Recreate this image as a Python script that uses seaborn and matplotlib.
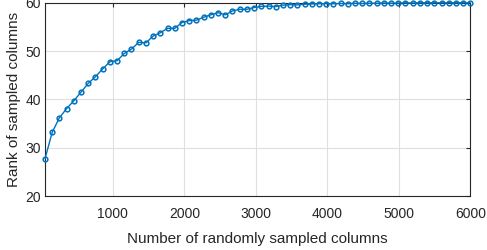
import matplotlib
matplotlib.use("Agg")
import matplotlib.pyplot as plt
import seaborn as sns
import pandas as pd

num_columns = [50, 151, 252, 353, 453, 554, 655, 756, 857, 958,
               1059, 1159, 1260, 1361, 1462, 1563, 1664, 1765, 1865, 1966,
               2067, 2168, 2269, 2370, 2471, 2572, 2672, 2773, 2874, 2975,
               3076, 3177, 3278, 3378, 3479, 3580, 3681, 3782, 3883, 3984,
               4085, 4185, 4286, 4387, 4488, 4589, 4690, 4791, 4892, 4992,
               5093, 5194, 5295, 5396, 5497, 5598, 5698, 5799, 5900, 6000]
rank_vals = [27.7, 33.2, 36.2, 38.1, 39.7, 41.5, 43.3, 44.7, 46.3, 47.8,
             48.0, 49.5, 50.4, 51.8, 51.7, 53.1, 53.8, 54.7, 54.7, 55.9,
             56.3, 56.4, 57.0, 57.5, 57.95, 57.5, 58.3, 58.65, 58.65, 59.0,
             59.25, 59.3, 59.2, 59.5, 59.6, 59.55, 59.7, 59.75, 59.8, 59.8,
             59.8, 59.85, 59.8, 59.9, 59.85, 59.9, 59.9, 59.95, 59.9, 59.95,
             60.0, 59.95, 60.0, 60.0, 60.0, 60.0, 60.0, 60.0, 60.0, 60.0]
x_ticks = [1000, 2000, 3000, 4000, 5000, 6000]
y_ticks = [20, 30, 40, 50, 60]
x_label = "Number of randomly sampled columns"
y_label = "Rank of sampled columns"

sns.set_theme(style="whitegrid")
plt.rcParams['font.family'] = ['Liberation Sans', 'DejaVu Sans']

df = pd.DataFrame({"x": num_columns, "y": rank_vals})

fig = plt.figure(figsize=(4.87, 2.5), dpi=100)
ax = fig.add_axes([0.0924, 0.216, 0.8733, 0.773])

color = "#0072BD"
sns.lineplot(data=df, x="x", y="y", ax=ax, color=color, linewidth=1.0,
             marker="o", markersize=3.4, markerfacecolor="none",
             markeredgecolor=color, markeredgewidth=1.1, clip_on=False, zorder=3)

ax.set_xlim(50, 6000)
ax.set_ylim(20, 60)
ax.set_xticks(x_ticks)
ax.set_yticks(y_ticks)
ax.set_xlabel(x_label, fontsize=11, color="#262626", labelpad=8)
ax.set_ylabel(y_label, fontsize=11, color="#262626", labelpad=3)
ax.tick_params(axis="both", which="both", direction="in", length=3, width=0.8,
               colors="#262626", labelsize=10, top=True, right=True,
               labelcolor="#262626")
ax.tick_params(axis="x", pad=8)
ax.tick_params(axis="y", pad=3)
ax.grid(True, color="#dfdfdf", linewidth=0.8)
ax.set_facecolor("white")
for s in ax.spines.values():
    s.set_visible(True)
    s.set_color("#262626")
    s.set_linewidth(0.8)

fig.savefig("out.png", dpi=100)
